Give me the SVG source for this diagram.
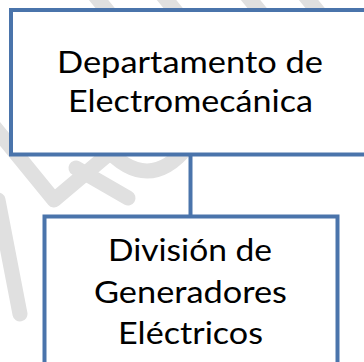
<svg xmlns="http://www.w3.org/2000/svg" width="364" height="362" viewBox="0 0 364 362">
<style>
.wm{fill:none;stroke:#e0e0e0;stroke-width:15;stroke-linecap:round;stroke-linejoin:round}
.box{fill:#ffffff;stroke:#4a74ab;stroke-width:4}
.edge{stroke:#4a74ab;stroke-width:4;fill:none}
.lbl{font-family:Lato,"Open Sans","Liberation Sans",sans-serif;font-size:31px;fill:#000000;text-anchor:middle}
</style>
<rect width="364" height="362" fill="#ffffff"/>
<g id="watermark">
<path class="wm" d="M92,-8 L110,14"/>
<path class="wm" d="M160,-8 L178,14"/>
<path class="wm" d="M244,-8 L262,14"/>
<path class="wm" d="M302,-8 L320,14"/>
<path class="wm" d="M-8,124 L54,200 L118,146"/>
<path class="wm" d="M76,168 L128,198"/>
<path class="wm" d="M104,146 Q148,196 188,146"/>
<path class="wm" d="M-2,200 L20,314"/>
</g>
<g id="connectors">
<line class="edge" x1="190.5" y1="154" x2="190.5" y2="217"/>
</g>
<g id="node-departamento">
<rect class="box" x="11" y="10" width="360" height="144.5"/>
<text class="lbl" x="190" y="73" textLength="266" lengthAdjust="spacingAndGlyphs">Departamento de</text>
<text class="lbl" x="190.5" y="112" textLength="245" lengthAdjust="spacingAndGlyphs">Electromecánica</text>
</g>
<g id="node-division">
<rect class="box" x="44.5" y="216.5" width="293" height="170"/>
<text class="lbl" x="190" y="261" textLength="164" lengthAdjust="spacingAndGlyphs">División de</text>
<text class="lbl" x="190.5" y="302.5" textLength="193" lengthAdjust="spacingAndGlyphs">Generadores</text>
<text class="lbl" x="190.5" y="343.5" textLength="145" lengthAdjust="spacingAndGlyphs">Eléctricos</text>
</g>
</svg>
